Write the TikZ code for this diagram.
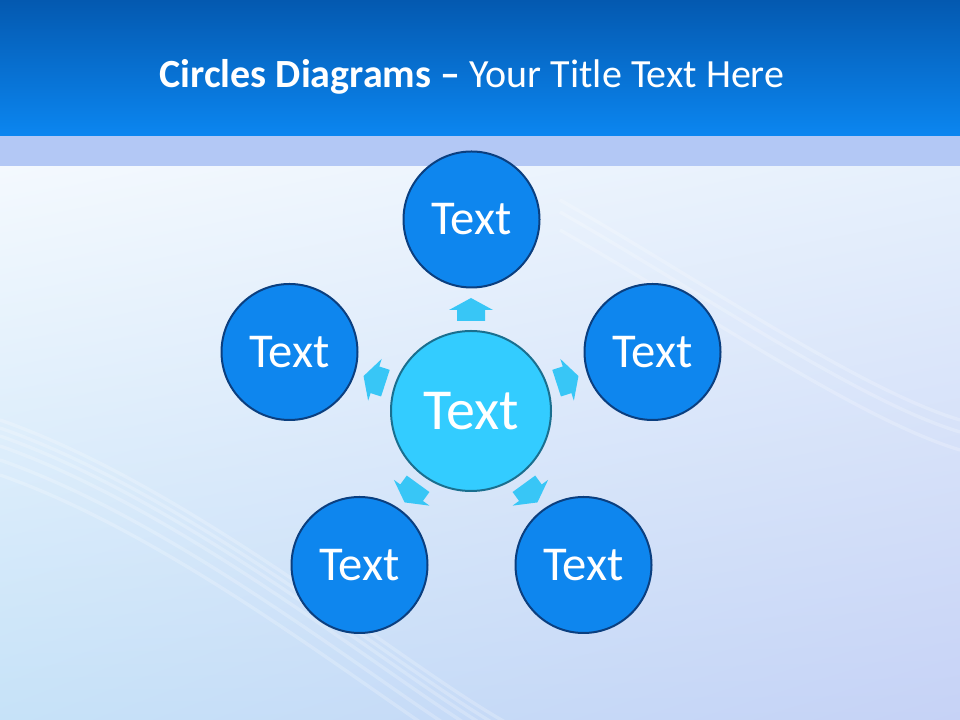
\documentclass[tikz,border=0pt]{standalone}
\usepackage{fontspec}
\setmainfont{Carlito}
\usetikzlibrary{shadings}
\definecolor{hdtop}{HTML}{0459B0}
\definecolor{hdbot}{HTML}{0B86F0}
\definecolor{stripe}{HTML}{B3C8F5}
\definecolor{outerfill}{HTML}{0E86EE}
\definecolor{outerline}{HTML}{0B3F7F}
\definecolor{centerfill}{HTML}{33CCFF}
\definecolor{centerline}{HTML}{1A6F8F}
\definecolor{arrowc}{HTML}{38C6F6}
\definecolor{bgul}{HTML}{F4F9FE}
\definecolor{bgur}{HTML}{E6F0FC}
\definecolor{bgll}{HTML}{C6E2F8}
\definecolor{bglr}{HTML}{C6D2F6}
\tikzset{
  outercirc/.style={circle, fill=outerfill, draw=outerline, line width=1.5pt,
    minimum size=102pt, inner sep=0pt, text=white, font=\fontsize{36.5}{40}\selectfont},
  centercirc/.style={circle, fill=centerfill, draw=centerline, line width=1.5pt,
    minimum size=120pt, inner sep=0pt, text=white, font=\fontsize{43.5}{48}\selectfont},
  blockarrow/.style={fill=arrowc},
  streak/.style={white, opacity=0.22, line width=2.5pt}
}
\begin{document}
\begin{tikzpicture}[x=0.75pt,y=0.75pt]
\useasboundingbox (0,0) rectangle (960,720);
% background
\shade[upper left=bgul, upper right=bgur, lower left=bgll, lower right=bglr]
  (0,0) rectangle (960,554);
% faint streaks
\foreach \d in {0,8,16,26,40,55} {
  \draw[streak] (0,{300-\d}) .. controls (200,{230-\d}) and (420,{40-\d}) .. (520,{-10-\d});
}
\foreach \d in {0,12,30} {
  \draw[streak] (560,{520-\d}) .. controls (700,{440-\d}) and (860,{330-\d}) .. (960,{300-\d});
}
% header
\shade[top color=hdtop, bottom color=hdbot] (0,584) rectangle (960,720);
\fill[stripe] (0,554) rectangle (960,584);
\node[text=white, font=\fontsize{30}{34}\selectfont] (title) at (472,643)
  {\textbf{Circles Diagrams --} Your Title Text Here};
% circles
\node[centercirc] (c) at (471,309) {Text};
\node[outercirc] (t)  at (471.5,500.5) {Text};
\node[outercirc] (r)  at (652.5,368) {Text};
\node[outercirc] (l)  at (289.5,368) {Text};
\node[outercirc] (br) at (583.5,155) {Text};
\node[outercirc] (bl) at (359.5,155) {Text};
% block arrows
\foreach \a in {90,18,-54,234,162} {
  \begin{scope}[shift={(c.center)}, rotate=\a-90]
    \fill[blockarrow] (-14,90) -- (14,90) -- (14,101) -- (22,101) -- (0,113)
      -- (-22,101) -- (-14,101) -- cycle;
  \end{scope}
}
\end{tikzpicture}
\end{document}
